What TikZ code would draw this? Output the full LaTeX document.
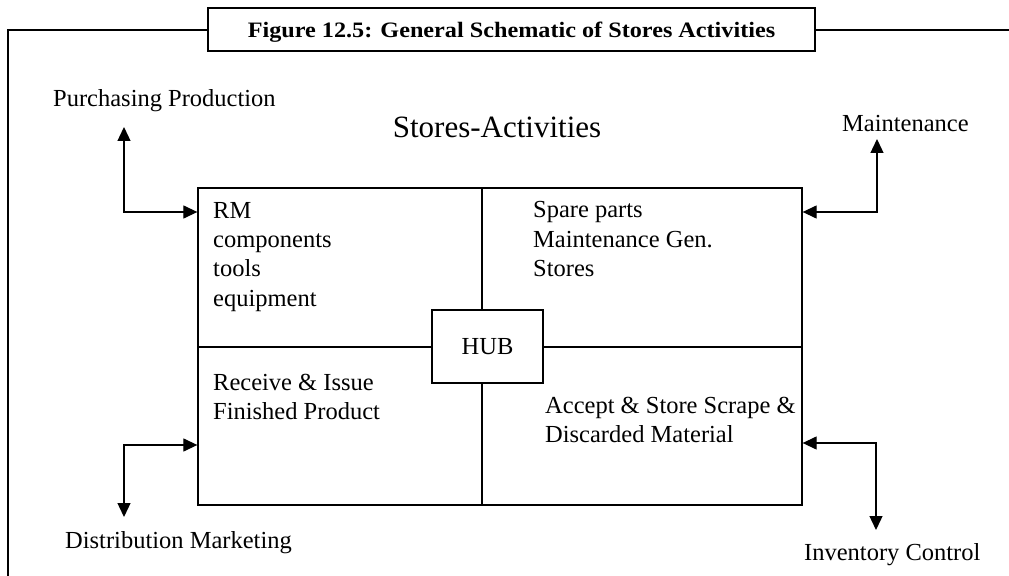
\documentclass[tikz,border=0pt]{standalone}
\usepackage{fontspec}
\setmainfont{Liberation Serif}
\newfontfamily\titlefont[FakeStretch=1.1]{Liberation Serif}
\usetikzlibrary{arrows.meta}
\begin{document}
\begin{tikzpicture}[x=1bp,y=-1bp,
  txt/.style={anchor=base west, inner sep=0pt, font=\fontsize{24.5bp}{29bp}\selectfont},
  conn/.style={line width=1.3bp},
  frame/.style={line width=2bp},
  dbl/.style={{Triangle[length=14bp,width=13bp]}-{Triangle[length=14bp,width=13bp]}},
]
\useasboundingbox (0,0) rectangle (1009,576);
% title and frame
\node[draw, frame, minimum width=607bp, minimum height=43bp, inner sep=0pt] (title) at (511.5,29.5) {};
\node[anchor=base, inner sep=0pt, font=\titlefont\bfseries\fontsize{22bp}{26bp}\selectfont]
      (titletext) at (511.5,37.5) {Figure 12.5: General Schematic of Stores Activities};
\draw[frame] (title.west |- 0,30) -- (8,30) -- (8,580);
\draw[frame] (title.east |- 0,30) -- (1012,30);
% main box
\node[draw, conn, minimum width=604bp, minimum height=317bp, inner sep=0pt] (box) at (500,346.5) {};
\draw[conn] (box.north -| 482,0) -- (box.south -| 482,0);
\draw[conn] (box.west |- 0,347) -- (box.east |- 0,347);
\node[draw, conn, fill=white, minimum width=111bp, minimum height=73bp, inner sep=0pt,
      font=\fontsize{24.5bp}{29bp}\selectfont] (hub) at (487.5,346.5) {HUB};
% heading
\node[anchor=base, inner sep=0pt, font=\fontsize{31bp}{36bp}\selectfont] (head) at (497,138) {Stores-Activities};
% outer labels
\node[txt] (pp) at (53,107) {Purchasing Production};
\node[txt] (mt) at (842,132) {Maintenance};
\node[txt] (dm) at (65,548) {Distribution Marketing};
\node[txt] (ic) at (804,560) {Inventory Control};
% quadrant texts
\node[txt] (q1a) at (213,219) {RM};
\node[txt] (q1b) at (213,248) {components};
\node[txt] (q1c) at (213,277) {tools};
\node[txt] (q1d) at (213,306) {equipment};
\node[txt] (q2a) at (533,218) {Spare parts};
\node[txt] (q2b) at (533,248) {Maintenance Gen.};
\node[txt] (q2c) at (533,277) {Stores};
\node[txt] (q3a) at (213,390) {Receive \& Issue};
\node[txt] (q3b) at (213,419) {Finished Product};
\node[txt] (q4a) at (545,413) {Accept \& Store Scrape \&};
\node[txt] (q4b) at (545,442) {Discarded Material};
% connectors
\coordinate (t1) at (124,127);
\coordinate (t2) at (877,139);
\coordinate (t3) at (124,517);
\coordinate (t4) at (876,530);
\draw[conn, dbl] (t1) |- (box.west |- 0,212);
\draw[conn, dbl] (t2) |- (box.east |- 0,212);
\draw[conn, dbl] (t3) |- (box.west |- 0,445);
\draw[conn, dbl] (t4) |- (box.east |- 0,443);
\end{tikzpicture}
\end{document}
